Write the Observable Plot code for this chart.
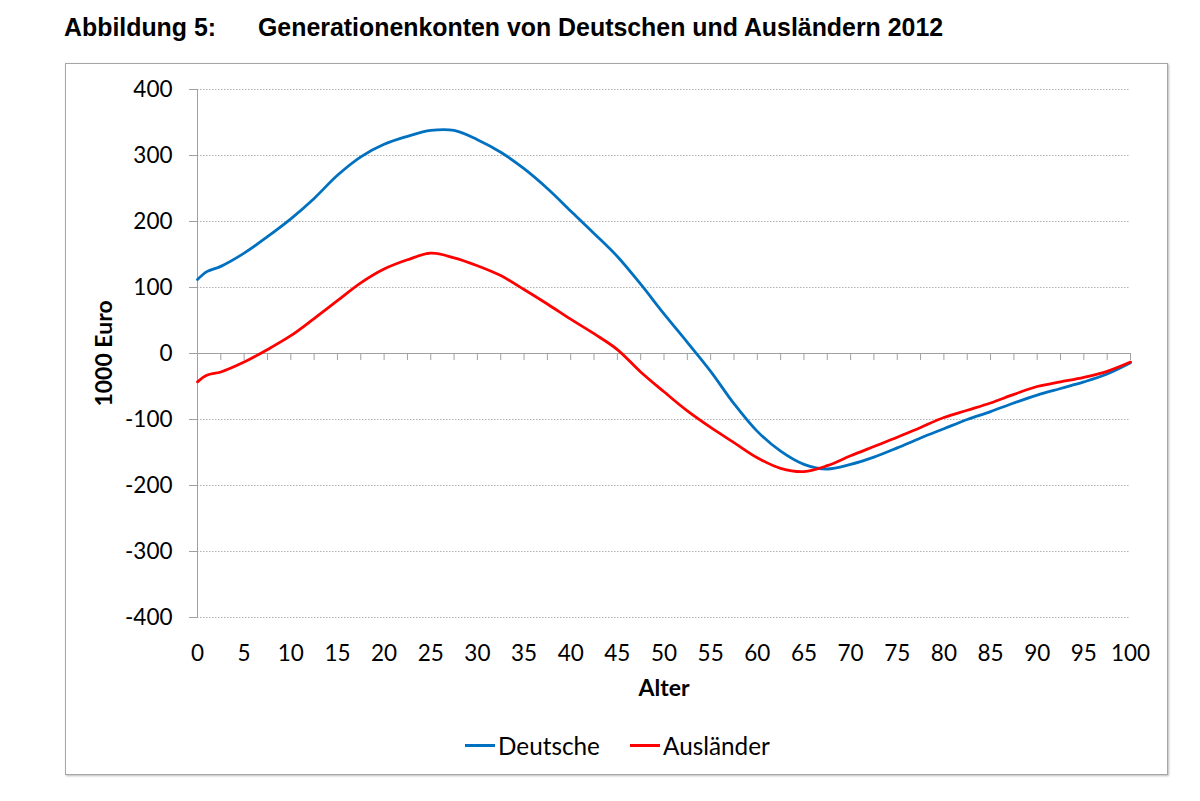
<!DOCTYPE html>
<html><head><meta charset="utf-8">
<script src="https://cdn.jsdelivr.net/npm/d3@7"></script>
<script src="https://cdn.jsdelivr.net/npm/@observablehq/plot@0.6"></script>
<style>
body{margin:0;background:#fff;}
#page{position:relative;width:1200px;height:801px;overflow:hidden;font-family:Lato,sans-serif;}
#title{position:absolute;left:64px;top:13px;font:bold 24.9px "Liberation Sans",Arial,sans-serif;white-space:pre;color:#000;}
#title span{display:inline-block;width:194px;}
#box{position:absolute;left:65px;top:63px;width:1101px;height:710px;border:1px solid #a6a6a6;box-shadow:1px 1px 2px #bbb;}
#chart{position:absolute;left:0;top:63px;}
.item{position:absolute;top:730px;font:24.3px Lato,sans-serif;color:#000;display:flex;align-items:center;height:30px;}
.sw{display:inline-block;width:30px;height:3px;margin-right:3px;}
</style></head>
<body><div id="page">
<div id="title"><span>Abbildung 5:</span>Generationenkonten von Deutschen und Ausländern 2012</div>
<div id="box"></div>
<div id="chart"></div>
</div>
<script>
const ages = [0,1,2.5,5,7.5,10,12.5,15,17.5,20,22.5,25,27.5,30,32.5,35,37.5,40,42.5,45,47.5,50,52.5,55,57.5,60,62.5,65,67.5,70,72.5,75,77.5,80,82.5,85,87.5,90,92.5,95,97.5,100];
const deutsche = [112,124,132,152,177,204,235,270,298,317,329,338,338,324,305,280,250,216,182,147,105,60,17,-27,-76,-118,-148,-168,-175,-168,-157,-143,-128,-114,-100,-88,-75,-63,-53,-43,-31,-14];
const auslaender = [-43,-33,-28,-13,6,27,53,80,107,128,142,152,145,133,118,97,75,52,30,6,-28,-58,-87,-112,-135,-158,-174,-179,-170,-155,-141,-127,-112,-97,-86,-75,-62,-50,-43,-36,-27,-13];
const seriesNames = ["Deutsche","Ausländer"];
const seriesColors = ["#0070C0","#FF0000"];
const legendLeft = [465, 630];
const xTicks = d3.range(0,101,5);
const yTicks = d3.range(-400,401,100);
const minorTicks = d3.range(2.5,100.1,2.5);

const table = [];
ages.forEach((a,i)=>{
  table.push({age:a, value:deutsche[i], series:seriesNames[0]});
  table.push({age:a, value:auslaender[i], series:seriesNames[1]});
});

const chart = Plot.plot({
  width:1200, height:712,
  marginLeft:197, marginRight:70, marginTop:26, marginBottom:158,
  style:{fontFamily:"Lato, sans-serif", fontSize:"22.5px", color:"#000", background:"transparent"},
  x:{domain:[0,100]},
  y:{domain:[-400,400]},
  color:{domain:seriesNames, range:seriesColors},
  marks:[
    Plot.ruleY(yTicks.filter(d=>d!==0), {stroke:"#b0b0b0", strokeDasharray:"1.5,1.5"}),
    Plot.ruleX([0], {stroke:"#a0a0a0"}),
    Plot.ruleY([0], {stroke:"#a0a0a0", strokeWidth:1.2}),
    Plot.ruleX(minorTicks, {x:d=>d, y1:0, y2:0, insetBottom:-7, stroke:"#a0a0a0"}),
    Plot.axisY({ticks:yTicks, tickSize:8, tickPadding:17, stroke:"#a0a0a0", label:null, tickFormat:d=>String(d).replace("−","-")}),
    Plot.axisX({ticks:xTicks, tickSize:0, tickPadding:28, label:null}),
    Plot.line(table, {x:"age", y:"value", z:"series", stroke:"series", strokeWidth:2.8, curve:"catmull-rom"}),
    Plot.text(["Alter"], {frameAnchor:"bottom", dy:78, fontWeight:"bold", fontSize:23}),
    Plot.text(["1000 Euro"], {frameAnchor:"left", textAnchor:"middle", dx:-93, rotate:-90, fontWeight:"bold", fontSize:23})
  ]
});
document.getElementById("chart").appendChild(chart);

const page = document.getElementById("page");
seriesNames.forEach((n,i)=>{
  const it = document.createElement("div"); it.className="item"; it.style.left = legendLeft[i]+"px";
  const sw = document.createElement("span"); sw.className="sw"; sw.style.background=seriesColors[i];
  const t = document.createElement("span"); t.textContent=n;
  it.appendChild(sw); it.appendChild(t); page.appendChild(it);
});
</script>
</body></html>
